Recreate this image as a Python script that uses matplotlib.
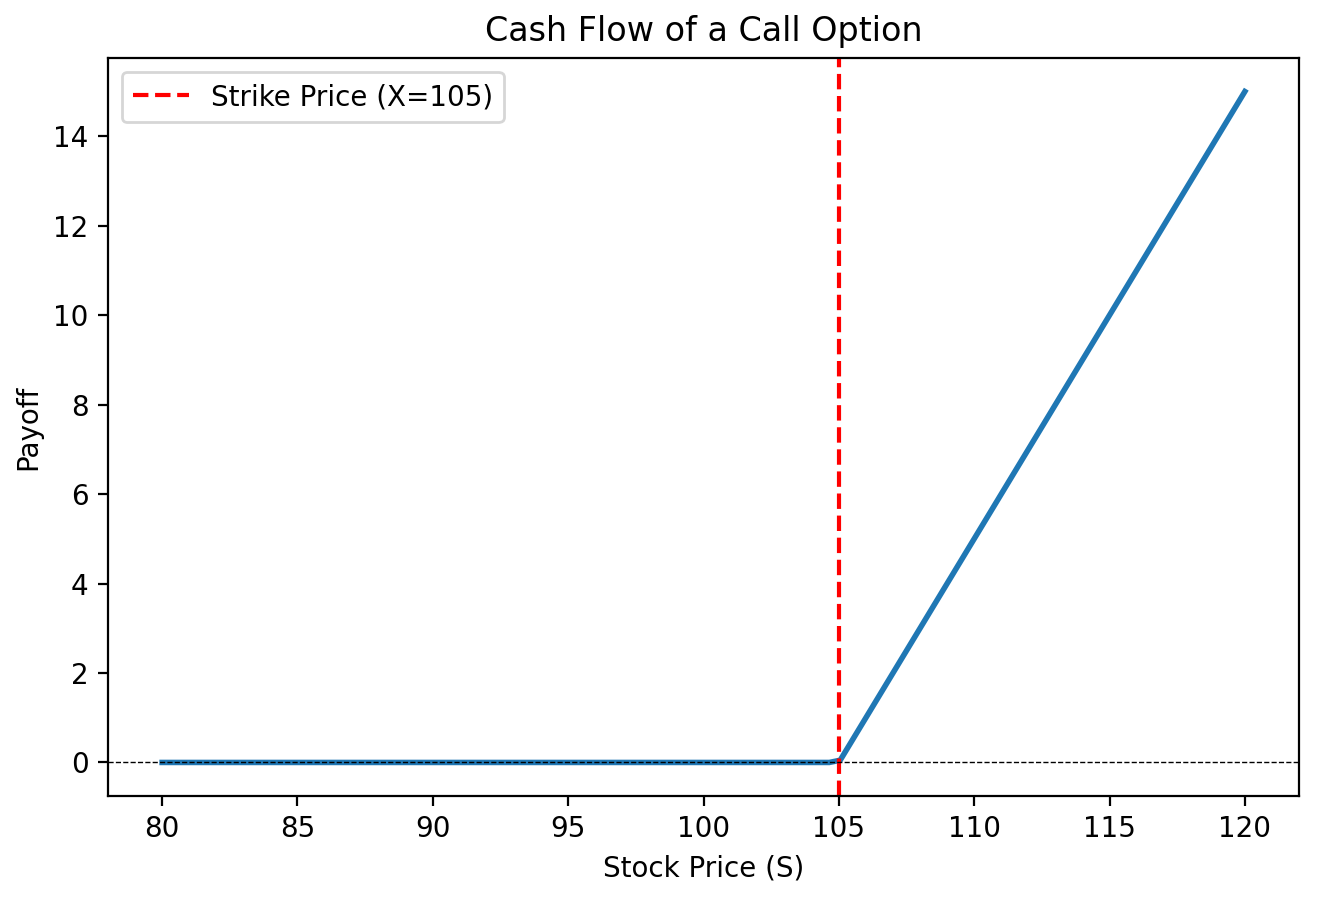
import matplotlib
matplotlib.use("Agg")
import matplotlib.pyplot as plt

# Payoff of a call option (corner points of the line)
strike = 105
stock_price = [80, 104.65, 105.05, 120]
payoff = [0, 0, 0.05, 15]

fig = plt.figure(figsize=(1318/200, 898/200), dpi=200)
ax = fig.add_axes([108/1318, 1 - 796/898, (1299-108)/1318, (796-58)/898])

ax.plot(stock_price, payoff, linewidth=2)
ax.axvline(strike, color='red', linestyle='--', label=f'Strike Price (X={strike})')
ax.axhline(0, color='black', linewidth=0.5, linestyle='--')

ax.set_title('Cash Flow of a Call Option')
ax.set_xlabel('Stock Price (S)')
ax.set_ylabel('Payoff')
ax.legend(loc='upper left')

fig.savefig('out.png', dpi=200)
